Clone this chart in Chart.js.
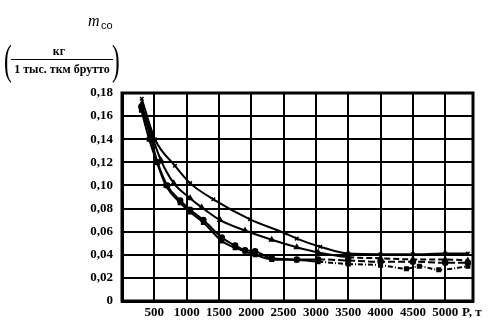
<!DOCTYPE html>
<html>
<head>
<meta charset="utf-8">
<script src="https://cdn.jsdelivr.net/npm/chart.js@4.4.1/dist/chart.umd.min.js"></script>
<style>
  html, body { margin: 0; padding: 0; background: #fff; }
  #wrap { position: relative; width: 494px; height: 330px; }
</style>
</head>
<body>
<div id="wrap"><canvas id="c" width="494" height="330"></canvas></div>
<script>
// Specific CO emission vs. train mass P, four series
const seriesAP = [305, 510, 820, 1053, 1413, 1981, 2523, 2704, 3065, 3500, 4000, 4500, 5000, 5350];
const seriesAM = [0.175, 0.140, 0.117, 0.102, 0.088, 0.0707, 0.0586, 0.054, 0.047, 0.041, 0.0405, 0.0405, 0.041, 0.041];

const seriesBP = [300, 450, 600, 800, 1053, 1233, 1517, 1904, 2317, 2704, 3034, 3500, 4000, 4500, 5000, 5350];
const seriesBM = [0.170, 0.145, 0.122, 0.102, 0.089, 0.081, 0.070, 0.061, 0.053, 0.0465, 0.042, 0.038, 0.037, 0.036, 0.036, 0.035];

const seriesCP = [300, 450, 550, 700, 900, 1053, 1259, 1543, 1750, 1904, 2059, 2317, 2704, 3034, 3500, 4000, 4500, 5000, 5350];
const seriesCM = [0.168, 0.140, 0.120, 0.100, 0.087, 0.079, 0.070, 0.055, 0.048, 0.044, 0.043, 0.037, 0.036, 0.036, 0.035, 0.034, 0.034, 0.033, 0.033];

const seriesDP = [300, 420, 540, 680, 900, 1053, 1259, 1543, 1750, 1904, 2059, 2317, 2704, 3034, 3500, 4000, 4400, 4600, 4900, 5350];
const seriesDM = [0.165, 0.140, 0.120, 0.100, 0.085, 0.077, 0.068, 0.052, 0.046, 0.043, 0.040, 0.036, 0.0355, 0.034, 0.032, 0.031, 0.028, 0.030, 0.027, 0.030];

const xTickValues = [500, 1000, 1500, 2000, 2500, 3000, 3500, 4000, 4500, 5000];
const yTickValues = [0, 0.02, 0.04, 0.06, 0.08, 0.10, 0.12, 0.14, 0.16, 0.18];
const yTickLabels = ['0', '0,02', '0,04', '0,06', '0,08', '0,10', '0,12', '0,14', '0,16', '0,18'];

const SERIF = '"Liberation Serif", "DejaVu Serif", serif';

function pts(px, py) { return px.map((p, i) => ({ x: p, y: py[i] })); }

// dashFrom: segments starting beyond this mass are drawn dashed
function lineSet(data, style, dash, dashFrom) {
  return {
    data,
    borderColor: '#000',
    backgroundColor: '#000',
    borderWidth: 2,
    pointStyle: style,
    pointRadius: 2.5,
    pointBorderWidth: 1.5,
    cubicInterpolationMode: 'monotone',
    fill: false,
    segment: {
      borderDash: ctx => (ctx.p0.parsed.x >= dashFrom ? dash : [])
    }
  };
}

// Frame around the plot plus the axis captions
const decor = {
  id: 'decor',
  afterDraw(chart) {
    const { ctx, chartArea: a } = chart;
    ctx.save();
    ctx.strokeStyle = '#000';
    ctx.lineWidth = 3;
    ctx.strokeRect(a.left, a.top, a.right - a.left, a.bottom - a.top);

    ctx.fillStyle = '#000';
    ctx.textBaseline = 'alphabetic';
    // m_co
    ctx.font = 'italic 16px ' + SERIF;
    ctx.textAlign = 'left';
    ctx.fillText('m', 88, 26);
    ctx.font = '11px "Liberation Sans", sans-serif';
    ctx.fillText('co', 101, 29);

    // units as a fraction in parentheses
    ctx.font = 'bold 12px ' + SERIF;
    ctx.textAlign = 'center';
    ctx.fillText('кг', 59, 55);
    ctx.fillText('1 тыс. ткм брутто', 62, 73);
    ctx.lineWidth = 1;
    ctx.beginPath();
    ctx.moveTo(11, 59.5);
    ctx.lineTo(113, 59.5);
    ctx.stroke();

    // tall, narrow brackets
    ctx.font = '42px ' + SERIF;
    ctx.textAlign = 'left';
    ctx.save();
    ctx.scale(0.55, 1);
    ctx.fillText('(', 4 / 0.55, 74);
    ctx.fillText(')', 112 / 0.55, 74);
    ctx.restore();

    // P, т
    ctx.font = 'bold 13px ' + SERIF;
    ctx.fillText('P, т', 462, 316);
    ctx.restore();
  }
};

new Chart(document.getElementById('c'), {
  type: 'line',
  data: {
    datasets: [
      lineSet(pts(seriesAP, seriesAM), 'crossRot', [], Infinity),
      lineSet(pts(seriesBP, seriesBM), 'triangle', [6, 3], 3400),
      lineSet(pts(seriesCP, seriesCM), 'circle', [7, 3], 2900),
      lineSet(pts(seriesDP, seriesDM), 'rect', [5, 2, 1, 2], 2900)
    ]
  },
  options: {
    responsive: false,
    animation: false,
    events: [],
    layout: { padding: { top: 93, right: 21, left: 0, bottom: 0 } },
    plugins: { legend: { display: false }, tooltip: { enabled: false } },
    scales: {
      x: {
        type: 'linear',
        min: 0,
        max: 5430,
        afterBuildTicks(scale) { scale.ticks = xTickValues.map(v => ({ value: v })); },
        afterFit(scale) { scale.height = 29; },
        grid: { color: '#000', lineWidth: 2, drawTicks: false },
        border: { color: '#000', width: 3 },
        ticks: {
          color: '#000',
          padding: 4,
          maxRotation: 0,
          autoSkip: false,
          font: { family: SERIF, size: 13, weight: 'bold' },
          callback: v => String(v)
        }
      },
      y: {
        type: 'linear',
        min: 0,
        max: 0.18,
        afterBuildTicks(scale) { scale.ticks = yTickValues.map(v => ({ value: v })); },
        afterFit(scale) { scale.width = 122; },
        grid: { color: '#000', lineWidth: 2, drawTicks: false },
        border: { color: '#000', width: 3 },
        ticks: {
          color: '#000',
          padding: 9,
          autoSkip: false,
          font: { family: SERIF, size: 13, weight: 'bold' },
          callback: (v, i) => yTickLabels[i]
        }
      }
    }
  },
  plugins: [decor]
});
</script>
</body>
</html>
